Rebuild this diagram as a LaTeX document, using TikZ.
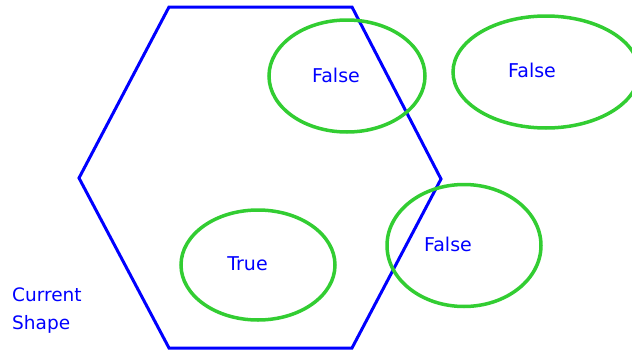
\documentclass[tikz,border=0pt]{standalone}
\usepackage{fontspec}
\setmainfont{DejaVu Sans}
\definecolor{hexblue}{RGB}{0,0,255}
\definecolor{ringgreen}{RGB}{50,205,50}
\begin{document}
\begin{tikzpicture}[x=1pt,y=-1pt,
  hexline/.style={draw=hexblue,line width=3pt,line join=miter},
  ring/.style={draw=ringgreen,line width=3.5pt},
  lbl/.style={text=hexblue,font=\fontsize{19}{22}\selectfont,inner sep=0pt}]
\useasboundingbox (0,0) rectangle (632,351);
\coordinate (h1) at (169,7);
\coordinate (h2) at (352,7);
\coordinate (h3) at (441,179);
\coordinate (h4) at (352,348);
\coordinate (h5) at (169,348);
\coordinate (h6) at (79,178);
\draw[hexline] (h1) -- (h2) -- (h3) -- (h4) -- (h5) -- (h6) -- cycle;
\begin{scope}
\clip (0,0) rectangle (632,351);
\draw[ring] (347,76) ellipse [x radius=78, y radius=56];
\draw[ring] (546,72) ellipse [x radius=93, y radius=56];
\draw[ring] (464,245.5) ellipse [x radius=77, y radius=61];
\draw[ring] (258,265) ellipse [x radius=77, y radius=55];
\end{scope}
\node[lbl] (f1) at (336,75) {False};
\node[lbl] (f2) at (532,70) {False};
\node[lbl] (f3) at (448,244) {False};
\node[lbl] (t1) at (247.5,264) {True};
\node[lbl,anchor=north west,align=left,font=\fontsize{18.5}{28}\selectfont] (cs) at (12,288) {Current\\Shape};
\end{tikzpicture}
\end{document}
